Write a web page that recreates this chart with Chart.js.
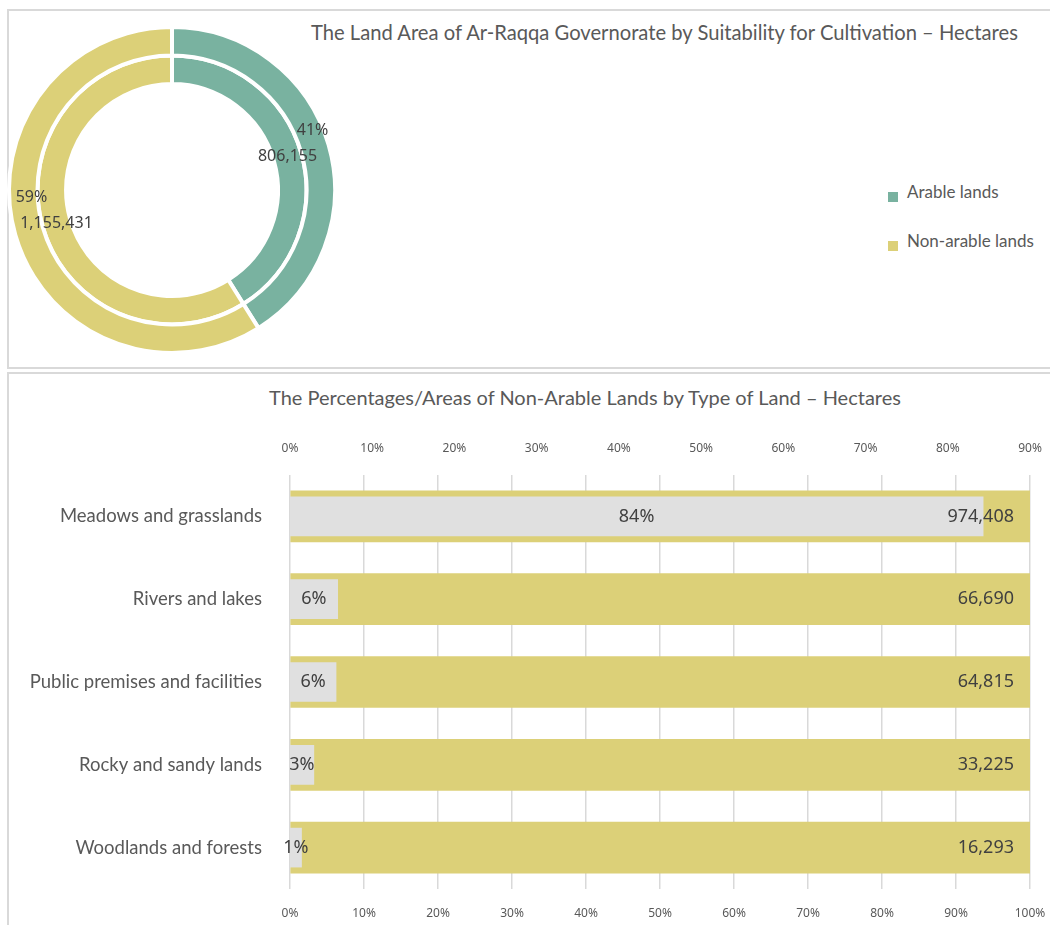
<!DOCTYPE html>
<html>
<head>
<meta charset="utf-8">
<script src="https://cdn.jsdelivr.net/npm/chart.js@4.4.0/dist/chart.umd.min.js"></script>
<style>
  html, body { margin:0; padding:0; background:#fff; width:1050px; height:925px; overflow:hidden; position:relative; }
  .panel { position:absolute; border:2px solid #D9D9D9; box-sizing:border-box; }
  #p1 { left:7px; top:9px; width:1070px; height:360px; }
  #p2 { left:7px; top:372px; width:1070px; height:580px; }
  .title { position:absolute; color:#595959; white-space:nowrap; font-family:Lato, sans-serif; font-size:20px; line-height:24px; }
  #t1 { left:311px; top:20px; font-size:20.2px; }
  #t2 { left:235px; width:700px; text-align:center; top:385px; }
  canvas { position:absolute; }
  #c1 { left:0; top:0; }
  #c2 { left:0; top:373px; }
  .lg-box { position:absolute; width:10px; height:10px; }
  .lg-text { position:absolute; font-family:Lato, sans-serif; font-size:17px; color:#595959; white-space:nowrap; line-height:20px; }
</style>
</head>
<body>
<div class="panel" id="p1"></div>
<div class="panel" id="p2"></div>
<div class="title" id="t1">The Land Area of Ar-Raqqa Governorate by Suitability for Cultivation – Hectares</div>
<div class="title" id="t2">The Percentages/Areas of Non-Arable Lands by Type of Land – Hectares</div>
<div id="legend"></div>
<canvas id="c1" width="344" height="380"></canvas>
<canvas id="c2" width="1050" height="552"></canvas>
<script>
// ---- Data: top doughnut ----
const suitabilityLabels = ['Arable lands', 'Non-arable lands'];
const suitabilityAreas = [806155, 1155431];
const suitabilityColors = ['#79B2A0', '#DCD078'];

// ---- Data: bottom bars ----
const landTypes = ['Meadows and grasslands', 'Rivers and lakes', 'Public premises and facilities', 'Rocky and sandy lands', 'Woodlands and forests'];
const landAreas = [974408, 66690, 64815, 33225, 16293];
const landPercents = [84.3, 5.8, 5.6, 2.9, 1.4];
const landShareFull = [100, 100, 100, 100, 100];

const fmt = v => v.toLocaleString('en-US');
const textColor = '#404040';
const axisColor = '#595959';

// Legend (HTML, from arrays)
const legend = document.getElementById('legend');
suitabilityLabels.forEach((lab, i) => {
  const box = document.createElement('div');
  box.className = 'lg-box';
  box.style.left = '888px';
  box.style.top = (192 + i * 49) + 'px';
  box.style.background = suitabilityColors[i];
  legend.appendChild(box);
  const t = document.createElement('div');
  t.className = 'lg-text';
  t.style.left = '907px';
  t.style.top = (182 + i * 49) + 'px';
  t.textContent = lab;
  legend.appendChild(t);
});

const doughnutLabelPlugin = {
  id: 'doughnutLabels',
  afterDatasetsDraw(chart) {
    const ctx = chart.ctx;
    const total = suitabilityAreas.reduce((a, b) => a + b, 0);
    ctx.save();
    ctx.font = '16px "Noto Sans"';
    ctx.fillStyle = textColor;
    ctx.textAlign = 'center';
    ctx.textBaseline = 'middle';
    chart.getDatasetMeta(1).data.forEach((arc, i) => {
      const p = arc.tooltipPosition();
      ctx.fillText(fmt(suitabilityAreas[i]), p.x, p.y);
      const dir = p.x > arc.x ? 1 : -1;
      ctx.fillText(Math.round(suitabilityAreas[i] / total * 100) + '%', p.x + dir * 25, p.y - 26);
    });
    ctx.restore();
  }
};

new Chart(document.getElementById('c1'), {
  type: 'doughnut',
  data: {
    labels: suitabilityLabels,
    datasets: [
      { data: suitabilityAreas, backgroundColor: suitabilityColors, borderColor: '#ffffff', borderWidth: 4 },
      { data: suitabilityAreas, backgroundColor: suitabilityColors, borderColor: '#ffffff', borderWidth: 4 }
    ]
  },
  options: {
    responsive: false,
    animation: false,
    radius: 163,
    cutout: '65%',
    layout: { padding: 0 },
    plugins: { legend: { display: false }, tooltip: { enabled: false } }
  },
  plugins: [doughnutLabelPlugin]
});

const barLabelPlugin = {
  id: 'barLabels',
  afterDatasetsDraw(chart) {
    const ctx = chart.ctx;
    ctx.save();
    ctx.font = '18px "Noto Sans"';
    ctx.fillStyle = textColor;
    ctx.textBaseline = 'middle';
    chart.getDatasetMeta(0).data.forEach((bar, i) => {
      ctx.textAlign = 'center';
      ctx.fillText(Math.round(landPercents[i]) + '%', (bar.base + bar.x) / 2, bar.y);
    });
    chart.getDatasetMeta(1).data.forEach((bar, i) => {
      ctx.textAlign = 'right';
      ctx.fillText(fmt(landAreas[i]), bar.x - 16, bar.y);
    });
    ctx.restore();
  }
};

const tickFont = { family: '"Noto Sans"', size: 12 };
const noSidePad = s => { s.paddingLeft = 0; s.paddingRight = 0; };

new Chart(document.getElementById('c2'), {
  type: 'bar',
  data: {
    labels: landTypes,
    datasets: [
      { label: 'Percentage', data: landPercents, xAxisID: 'x', backgroundColor: '#E0E0E0', barThickness: 39, grouped: false },
      { label: 'Area', data: landShareFull, xAxisID: 'x2', backgroundColor: '#DCD078', barThickness: 51, grouped: false }
    ]
  },
  options: {
    indexAxis: 'y',
    responsive: false,
    animation: false,
    layout: { padding: { left: 0, right: 20, top: 0, bottom: 0 } },
    scales: {
      y: {
        type: 'category',
        grid: { display: false, drawTicks: false },
        border: { display: false },
        ticks: { padding: 28, color: axisColor, font: { family: 'Lato', size: 18.5 } },
        afterFit(s) { s.width = 290; s.paddingTop = 0; s.paddingBottom = 0; }
      },
      x: {
        type: 'linear', axis: 'x', position: 'top', min: 0, max: 90,
        grid: { display: false, drawTicks: false },
        border: { display: false },
        ticks: { stepSize: 10, padding: 19, color: axisColor, font: tickFont, callback: v => v + '%' },
        afterFit(s) { s.height = 102; noSidePad(s); }
      },
      x2: {
        type: 'linear', axis: 'x', position: 'bottom', min: 0, max: 100,
        grid: { color: '#D9D9D9', lineWidth: 1.5, drawTicks: false },
        border: { display: false },
        ticks: { stepSize: 10, padding: 17, color: axisColor, font: tickFont, callback: v => v + '%' },
        afterFit(s) { s.height = 36; noSidePad(s); }
      }
    },
    plugins: { legend: { display: false }, tooltip: { enabled: false } }
  },
  plugins: [barLabelPlugin]
});
</script>
</body>
</html>
